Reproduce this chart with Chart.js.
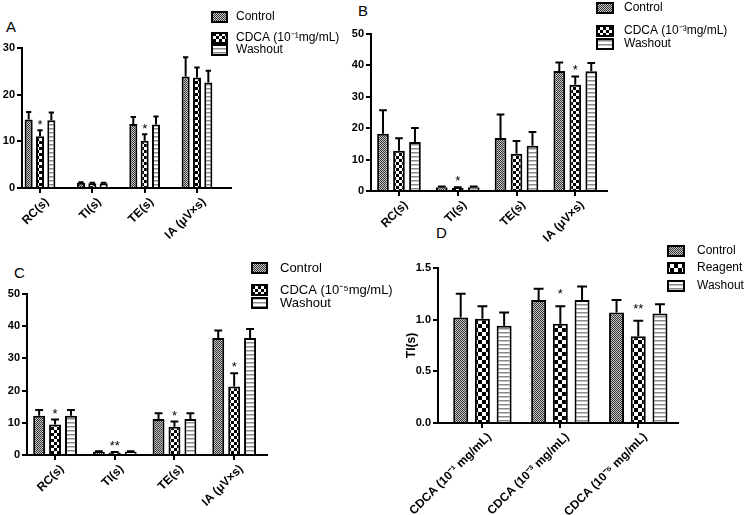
<!DOCTYPE html>
<html>
<head>
<meta charset="utf-8">
<script src="https://cdn.jsdelivr.net/npm/chart.js@4.4.0/dist/chart.umd.min.js"></script>
<style>
  body { margin: 0; background: #fff; width: 750px; height: 515px; position: relative; overflow: hidden; font-family: Arial, "Liberation Sans", sans-serif; }
  canvas { position: absolute; }
  .tag { position: absolute; font-size: 15px; line-height: 16px; color: #000; }
</style>
</head>
<body>
<div class="tag" style="left:6px;top:19px">A</div>
<div class="tag" style="left:358px;top:3px">B</div>
<div class="tag" style="left:14px;top:265px">C</div>
<div class="tag" style="left:436px;top:225px">D</div>
<canvas id="chartA" width="350" height="250" style="left:0;top:0"></canvas>
<canvas id="chartB" width="420" height="250" style="left:330px;top:0"></canvas>
<canvas id="chartC" width="410" height="265" style="left:0;top:250px"></canvas>
<canvas id="chartD" width="380" height="275" style="left:370px;top:240px"></canvas>
<script>
// Panel A - CDCA 10^-1 mg/mL
const catsA = ['RC(s)', 'TI(s)', 'TE(s)', 'IA (\u03bcV\u00d7s)'];
const ctrlA = [14.7, 1.1, 13.7, 23.9];
const ctrlAErr = [1.6, 0.15, 1.5, 4.1];
const cdcaA = [11.1, 1.0, 10.1, 23.7];
const cdcaAErr = [1.3, 0.1, 1.4, 2.1];
const washA = [14.5, 1.0, 13.6, 22.6];
const washAErr = [1.7, 0.1, 1.7, 2.5];
const starsA = ['*', '', '*', ''];

// Panel B - CDCA 10^-3 mg/mL
const catsB = catsA;
const ctrlB = [18.2, 1.2, 16.9, 38.2];
const ctrlBErr = [7.5, 0.2, 7.5, 2.7];
const cdcaB = [12.8, 1.0, 11.9, 33.8];
const cdcaBErr = [4.0, 0.2, 4.0, 2.7];
const washB = [15.6, 1.2, 14.4, 38.1];
const washBErr = [4.5, 0.2, 4.4, 2.7];
const starsB = ['', '*', '', '*'];

// Panel C - CDCA 10^-5 mg/mL
const catsC = catsA;
const ctrlC = [12.2, 1.0, 11.2, 36.3];
const ctrlCErr = [1.8, 0.15, 1.8, 2.4];
const cdcaC = [9.5, 0.8, 8.8, 21.3];
const cdcaCErr = [1.5, 0.15, 1.6, 4.1];
const washC = [12.2, 1.0, 11.2, 36.3];
const washCErr = [1.8, 0.15, 1.8, 2.8];
const starsC = ['*', '**', '*', '*'];

// Panel D - TI(s) per concentration
const catsD = ['CDCA (10\u207b\u00b9 mg/mL)', 'CDCA (10\u207b\u00b3 mg/mL)', 'CDCA (10\u207b\u2075 mg/mL)'];
const ctrlD = [1.02, 1.19, 1.07];
const ctrlDErr = [0.23, 0.11, 0.12];
const reagD = [1.01, 0.96, 0.84];
const reagDErr = [0.12, 0.17, 0.15];
const washD = [0.94, 1.19, 1.06];
const washDErr = [0.13, 0.13, 0.09];
const starsD = ['', '*', '**'];

const yTicksAC = [0, 10, 20, 30, 40, 50];
const yTicksD = [0, 0.5, 1.0, 1.5];

Chart.defaults.font.family = 'Arial, "Liberation Sans", sans-serif';
Chart.defaults.color = '#000';

// fill patterns
function makePattern(kind, size) {
  const c = document.createElement('canvas');
  const g = c.getContext('2d');
  if (kind === 'fine') {
    c.width = c.height = 2;
    g.fillStyle = '#c8c8c8'; g.fillRect(0, 0, 2, 2);
    g.fillStyle = '#333'; g.fillRect(0, 0, 1, 1); g.fillRect(1, 1, 1, 1);
  } else if (kind === 'check') {
    c.width = c.height = size * 2;
    g.fillStyle = '#fff'; g.fillRect(0, 0, size * 2, size * 2);
    g.fillStyle = '#000'; g.fillRect(0, 0, size, size); g.fillRect(size, size, size, size);
  } else {
    c.width = 1; c.height = 4;
    g.fillStyle = '#fff'; g.fillRect(0, 0, 1, 4);
    g.fillStyle = '#8a8a8a'; g.fillRect(0, 0, 1, 1);
    g.fillStyle = '#c4c4c4'; g.fillRect(0, 1, 1, 1);
  }
  return g.createPattern(c, 'repeat');
}

function bars(label, values, errs, pattern, stars) {
  return {
    label: label,
    data: values.map((v, i) => ({ x: i, y: v })),
    errors: errs,
    stars: stars || [],
    backgroundColor: pattern,
    borderColor: '#000',
    borderWidth: 2
  };
}

// error bars (upper only) + significance stars
const errorBars = {
  id: 'errorBars',
  afterDatasetsDraw(chart, args, opts) {
    const ctx = chart.ctx;
    const yScale = chart.scales.y;
    ctx.save();
    ctx.strokeStyle = '#000';
    ctx.lineWidth = 2;
    ctx.fillStyle = '#000';
    ctx.textAlign = 'center';
    ctx.textBaseline = 'alphabetic';
    ctx.font = opts.starFont;
    chart.data.datasets.forEach((ds, di) => {
      chart.getDatasetMeta(di).data.forEach((bar, i) => {
        const top = yScale.getPixelForValue(ds.data[i].y + ds.errors[i]);
        const half = bar.width * 0.33;
        ctx.beginPath();
        ctx.moveTo(bar.x, bar.y);
        ctx.lineTo(bar.x, top);
        ctx.moveTo(bar.x - half, top);
        ctx.lineTo(bar.x + half, top);
        ctx.stroke();
        if (ds.stars[i]) {
          ctx.fillText(ds.stars[i], bar.x, top - opts.gap + 7);
        }
      });
    });
    ctx.restore();
  }
};

// legend drawn next to each panel
const panelLegend = {
  id: 'panelLegend',
  afterDraw(chart, args, opts) {
    const ctx = chart.ctx;
    ctx.save();
    ctx.font = opts.font;
    ctx.textBaseline = 'middle';
    chart.data.datasets.forEach((ds, i) => {
      const y = opts.rows[i];
      ctx.fillStyle = ds.backgroundColor;
      ctx.fillRect(opts.x, y - opts.h / 2, opts.w, opts.h);
      ctx.lineWidth = 2;
      ctx.strokeStyle = '#000';
      ctx.strokeRect(opts.x, y - opts.h / 2, opts.w, opts.h);
      ctx.fillStyle = '#000';
      ctx.fillText(ds.label, opts.x + opts.w + opts.gap, y);
    });
    ctx.restore();
  }
};

function makeChart(id, cfg) {
  const tickFont = { size: 11, weight: 'bold' };
  const axisGrid = { display: true, drawOnChartArea: false, drawTicks: true, tickLength: 5, color: '#000', lineWidth: 2, offset: false };
  const axisBorder = { display: true, color: '#000', width: 2 };
  return new Chart(document.getElementById(id), {
    type: 'bar',
    data: { datasets: cfg.datasets },
    plugins: [errorBars, panelLegend],
    options: {
      responsive: false,
      animation: false,
      layout: { padding: cfg.padding },
      datasets: { bar: { categoryPercentage: cfg.cp, barPercentage: cfg.bp } },
      plugins: {
        legend: { display: false },
        tooltip: { enabled: false },
        errorBars: { gap: cfg.starGap, starFont: '13px Arial, "Liberation Sans", sans-serif' },
        panelLegend: cfg.legend
      },
      scales: {
        x: {
          type: 'linear',
          bounds: 'data',
          offset: false,
          min: cfg.xMin,
          max: cfg.xMax,
          afterBuildTicks: s => { s.ticks = cfg.cats.map((c, i) => ({ value: i })); },
          afterFit: s => { s.height = cfg.xHeight; },
          ticks: {
            autoSkip: false,
            minRotation: 45,
            maxRotation: 45,
            padding: 2,
            labelOffset: 7,
            font: { size: cfg.xFontSize, weight: 'bold' },
            callback: v => cfg.cats[v]
          },
          grid: axisGrid,
          border: axisBorder
        },
        y: {
          min: 0,
          max: cfg.yMax,
          afterBuildTicks: s => { s.ticks = cfg.yTicks.filter(v => v <= cfg.yMax).map(v => ({ value: v })); },
          afterFit: s => { s.width = cfg.yWidth; },
          ticks: { padding: 2, font: tickFont, callback: cfg.yFmt || (v => v) },
          title: cfg.yTitle ? { display: true, text: cfg.yTitle, font: { size: 12, weight: 'bold' }, padding: 0 } : { display: false },
          grid: axisGrid,
          border: axisBorder
        }
      }
    }
  });
}

const fine = makePattern('fine');
const check = makePattern('check', 3);
const check4 = makePattern('check', 4);
const stripes = makePattern('stripes');
const legendFont = '12px Arial, "Liberation Sans", sans-serif';

makeChart('chartA', {
  cats: catsA,
  datasets: [
    bars('Control', ctrlA, ctrlAErr, fine),
    bars('CDCA (10\u207b\u00b9mg/mL)', cdcaA, cdcaAErr, check, starsA),
    bars('Washout', washA, washAErr, stripes)
  ],
  padding: { left: 0, top: 48, right: 119, bottom: 0 },
  xMin: -0.344, xMax: 3.65, xHeight: 62, yWidth: 22, xFontSize: 12,
  yMax: 30, yTicks: yTicksAC,
  cp: 0.65, bp: 0.71, starGap: 8,
  legend: { x: 212, rows: [17, 38, 50], w: 15, h: 10, gap: 9, font: legendFont }
});

makeChart('chartB', {
  cats: catsB,
  datasets: [
    bars('Control', ctrlB, ctrlBErr, fine),
    bars('CDCA (10\u207b\u00b3mg/mL)', cdcaB, cdcaBErr, check, starsB),
    bars('Washout', washB, washBErr, stripes)
  ],
  padding: { left: 0, top: 34, right: 143, bottom: 0 },
  xMin: -0.476, xMax: 3.54, xHeight: 59, yWidth: 41, xFontSize: 12,
  yMax: 50, yTicks: yTicksAC,
  cp: 0.816, bp: 0.73, starGap: 9,
  legend: { x: 267, rows: [8, 31, 44], w: 16, h: 10, gap: 11, font: legendFont }
});

makeChart('chartC', {
  cats: catsC,
  datasets: [
    bars('Control', ctrlC, ctrlCErr, fine),
    bars('CDCA (10\u207b\u2075mg/mL)', cdcaC, cdcaCErr, check, starsC),
    bars('Washout', washC, washCErr, stripes)
  ],
  padding: { left: 0, top: 44, right: 143, bottom: 0 },
  xMin: -0.47, xMax: 3.55, xHeight: 60, yWidth: 27, xFontSize: 12,
  yMax: 50, yTicks: yTicksAC,
  cp: 0.80, bp: 0.75, starGap: 9,
  legend: { x: 252, rows: [18, 40, 53], w: 15, h: 10, gap: 13, font: '13px Arial, "Liberation Sans", sans-serif' }
});

makeChart('chartD', {
  cats: catsD,
  datasets: [
    bars('Control', ctrlD, ctrlDErr, fine),
    bars('Reagent', reagD, reagDErr, check4, starsD),
    bars('Washout', washD, washDErr, stripes)
  ],
  padding: { left: 34, top: 28, right: 72, bottom: 0 },
  xMin: -0.57, xMax: 2.51, xHeight: 92, yWidth: 34, xFontSize: 12,
  yMax: 1.5, yTicks: yTicksD, yFmt: v => v.toFixed(1), yTitle: 'TI(s)',
  cp: 0.836, bp: 0.69, starGap: 15,
  legend: { x: 298, rows: [11, 28, 46], w: 16, h: 10, gap: 13, font: legendFont }
});
</script>
</body>
</html>
